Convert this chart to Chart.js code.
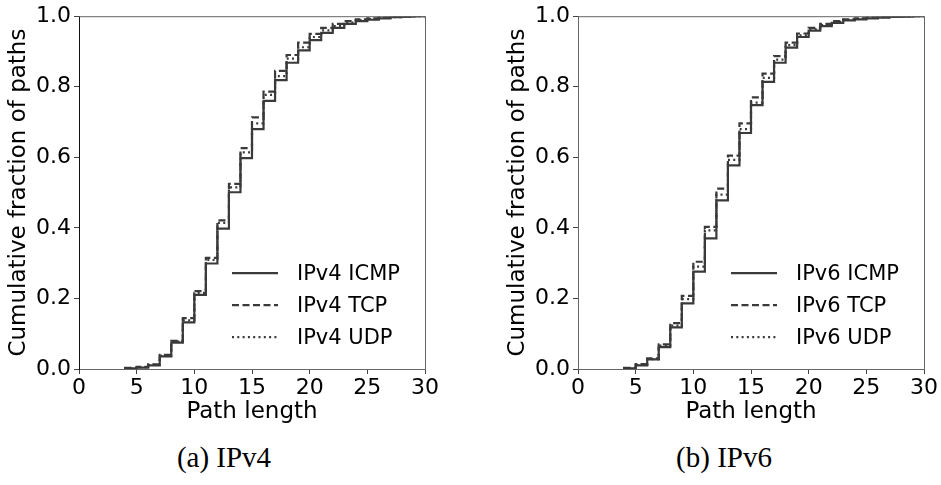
<!DOCTYPE html>
<html>
<head>
<meta charset="utf-8">
<script src="https://cdn.jsdelivr.net/npm/chart.js@4/dist/chart.umd.min.js"></script>
<style>
  html, body { margin: 0; padding: 0; background: #fff; overflow: hidden; }
  body { width: 941px; height: 485px; position: relative; }
  .panel { position: absolute; top: 0; width: 442px; height: 430px; }
  .caption {
    position: absolute; top: 441px; width: 200px; text-align: center;
    font-family: "Liberation Serif", serif; font-size: 29px; color: #000;
  }
</style>
</head>
<body>
<div class="panel" style="left:0px"><canvas id="ipv4Chart" width="442" height="430"></canvas></div>
<div class="panel" style="left:499px"><canvas id="ipv6Chart" width="442" height="430"></canvas></div>
<div class="caption" style="left:124px">(a) IPv4</div>
<div class="caption" style="left:624px">(b) IPv6</div>

<script>
// path lengths (x values of each step)
const pathLengths = [4, 5, 6, 7, 8, 9, 10, 11, 12, 13, 14, 15, 16, 17, 18, 19, 20, 21, 22, 23, 24, 25, 26, 27, 28, 29, 30];

// IPv4 cumulative fractions
const ipv4Icmp = [0.001, 0.002, 0.004, 0.010, 0.036, 0.075, 0.132, 0.210, 0.299, 0.398, 0.501, 0.598, 0.680, 0.760, 0.819, 0.868, 0.903, 0.932, 0.953, 0.967, 0.978, 0.986, 0.990, 0.994, 0.997, 0.999, 1.0];
const ipv4Tcp  = [0.001, 0.003, 0.006, 0.013, 0.040, 0.080, 0.144, 0.221, 0.315, 0.421, 0.525, 0.626, 0.713, 0.786, 0.845, 0.890, 0.925, 0.950, 0.967, 0.978, 0.986, 0.991, 0.994, 0.996, 0.998, 0.999, 1.0];
const ipv4Udp  = [0.001, 0.002, 0.005, 0.012, 0.038, 0.078, 0.138, 0.216, 0.309, 0.414, 0.515, 0.614, 0.696, 0.777, 0.830, 0.880, 0.912, 0.941, 0.960, 0.972, 0.982, 0.988, 0.992, 0.995, 0.997, 0.999, 1.0];

// IPv6 cumulative fractions
const ipv6Icmp = [0.001, 0.002, 0.010, 0.027, 0.062, 0.118, 0.186, 0.276, 0.370, 0.478, 0.577, 0.669, 0.748, 0.814, 0.868, 0.911, 0.941, 0.959, 0.972, 0.981, 0.988, 0.991, 0.994, 0.996, 0.998, 0.999, 1.0];
const ipv6Tcp  = [0.001, 0.003, 0.014, 0.030, 0.070, 0.130, 0.207, 0.304, 0.403, 0.511, 0.605, 0.696, 0.770, 0.837, 0.887, 0.925, 0.951, 0.967, 0.978, 0.986, 0.991, 0.994, 0.996, 0.998, 0.999, 1.0, 1.0];
const ipv6Udp  = [0.001, 0.002, 0.012, 0.028, 0.066, 0.123, 0.198, 0.290, 0.393, 0.494, 0.593, 0.680, 0.755, 0.825, 0.877, 0.918, 0.946, 0.963, 0.975, 0.984, 0.990, 0.993, 0.995, 0.997, 0.998, 0.999, 1.0];

const xTicks = [0, 5, 10, 15, 20, 25, 30];
const yTicks = [0.0, 0.2, 0.4, 0.6, 0.8, 1.0];

const LINE = "#3a3a3a";
const FONT = "'DejaVu Sans', sans-serif";

function toPoints(values) {
  return values.map((v, i) => ({ x: pathLengths[i], y: v }));
}

// frame on top and right, matplotlib style
const framePlugin = {
  id: "frame",
  afterDatasetsDraw(chart, args, opts) {
    const { ctx, chartArea: a } = chart;
    ctx.save();
    ctx.strokeStyle = opts.color;
    ctx.lineWidth = 1;
    ctx.beginPath();
    ctx.moveTo(a.left, a.top + 0.5);
    ctx.lineTo(a.right, a.top + 0.5);
    ctx.moveTo(a.right + 0.5, a.top);
    ctx.lineTo(a.right + 0.5, a.bottom);
    ctx.stroke();
    ctx.restore();
  }
};

// legend drawn inside the plot, lower right
const innerLegend = {
  id: "innerLegend",
  afterDraw(chart) {
    const { ctx, chartArea: a } = chart;
    ctx.save();
    ctx.font = "21px " + FONT;
    ctx.textBaseline = "middle";
    ctx.fillStyle = "#000";
    chart.data.datasets.forEach((ds, i) => {
      const y = a.top + 257 + i * 32;
      ctx.strokeStyle = ds.borderColor;
      ctx.lineWidth = ds.borderWidth;
      ctx.setLineDash(ds.borderDash);
      ctx.beginPath();
      ctx.moveTo(a.left + 153, y);
      ctx.lineTo(a.left + 199, y);
      ctx.stroke();
      ctx.setLineDash([]);
      ctx.fillText(ds.label, a.left + 218, y + 1);
    });
    ctx.restore();
  }
};

function makeChart(canvasId, prefix, icmp, tcp, udp, leftSpine) {
  const ctx = document.getElementById(canvasId).getContext("2d");
  return new Chart(ctx, {
    type: "line",
    data: {
      datasets: [
        { label: prefix + " ICMP", data: toPoints(icmp), borderColor: LINE, borderWidth: 2.2, borderDash: [], order: 3 },
        { label: prefix + " TCP", data: toPoints(tcp), borderColor: LINE, borderWidth: 2.2, borderDash: [7, 3.5], order: 2 },
        { label: prefix + " UDP", data: toPoints(udp), borderColor: LINE, borderWidth: 2.2, borderDash: [2, 3.3], order: 1 }
      ]
    },
    plugins: [framePlugin, innerLegend],
    options: {
      responsive: false,
      animation: false,
      layout: { padding: { top: 15, right: 17, left: 0, bottom: 0 } },
      elements: { point: { radius: 0 }, line: { stepped: "after", fill: false, tension: 0 } },
      plugins: {
        legend: { display: false },
        tooltip: { enabled: false },
        frame: { color: "#666" }
      },
      scales: {
        x: {
          type: "linear",
          min: 0,
          max: 30,
          afterBuildTicks: s => { s.ticks = xTicks.map(v => ({ value: v })); },
          afterFit: s => { s.height = 61; },
          grid: { drawOnChartArea: false, drawTicks: true, tickLength: 5, tickColor: "#444" },
          border: { color: "#666", width: 1 },
          ticks: { color: "#000", font: { family: FONT, size: 22 }, padding: 1, maxRotation: 0 },
          title: { display: true, text: "Path length", color: "#000", font: { family: FONT, size: 23 }, padding: { top: 0, bottom: 4 } }
        },
        y: {
          min: 0,
          max: 1,
          afterBuildTicks: s => { s.ticks = yTicks.map(v => ({ value: v })); },
          afterFit: s => { s.width = 79; },
          grid: { drawOnChartArea: false, drawTicks: true, tickLength: 5, tickColor: "#444" },
          border: { color: leftSpine, width: 1 },
          ticks: { color: "#000", font: { family: FONT, size: 22 }, padding: 3, callback: v => v.toFixed(1) },
          title: { display: true, text: "Cumulative fraction of paths", color: "#000", font: { family: FONT, size: 23 }, padding: { top: 5, bottom: 0 } }
        }
      }
    }
  });
}

makeChart("ipv4Chart", "IPv4", ipv4Icmp, ipv4Tcp, ipv4Udp, "#111");
makeChart("ipv6Chart", "IPv6", ipv6Icmp, ipv6Tcp, ipv6Udp, "#666");
</script>
</body>
</html>
